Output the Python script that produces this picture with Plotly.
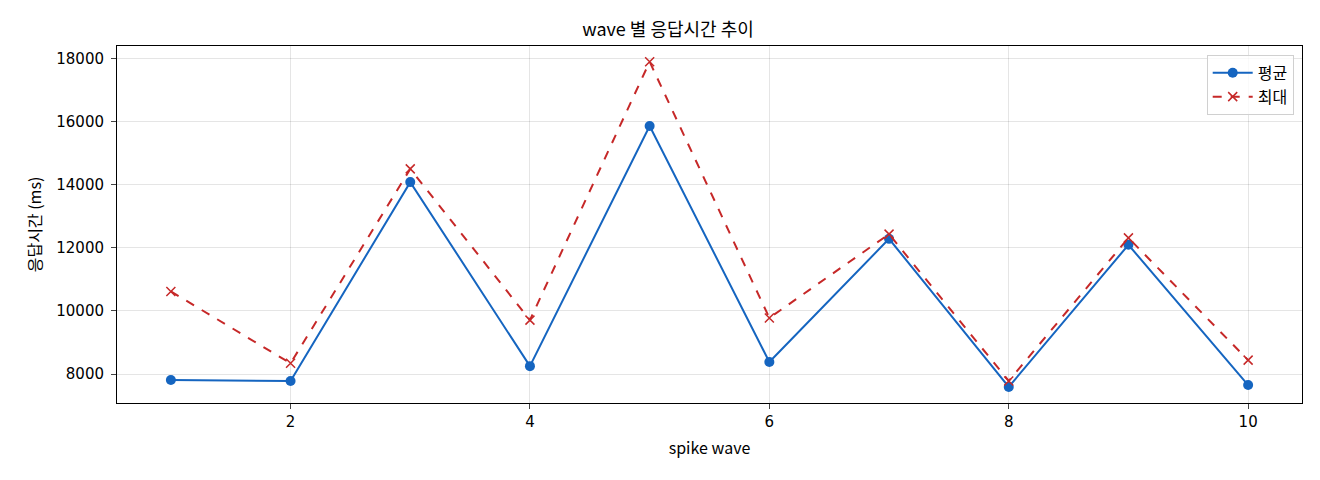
import plotly.graph_objects as go

# data
waves = [1, 2, 3, 4, 5, 6, 7, 8, 9, 10]
avg_ms = [7810, 7780, 14090, 8250, 15870, 8380, 12290, 7590, 12100, 7650]
max_ms = [10620, 8340, 14510, 9710, 17910, 9780, 12440, 7780, 12320, 8440]
x_ticks = [2, 4, 6, 8, 10]
y_ticks = [8000, 10000, 12000, 14000, 16000, 18000]

FONT = "Noto Sans CJK KR, DejaVu Sans, sans-serif"
NUM_FONT = "DejaVu Sans, sans-serif"

fig = go.Figure()
fig.add_trace(go.Scatter(
    x=waves, y=avg_ms, mode="lines+markers", name="평균",
    line=dict(color="#1565c0", width=2),
    marker=dict(symbol="circle", size=10, color="#1565c0"),
))
fig.add_trace(go.Scatter(
    x=waves, y=max_ms, mode="lines+markers", name="최대",
    line=dict(color="#c62828", width=2, dash="dash"),
    marker=dict(symbol="x-thin", size=9, color="#c62828",
                line=dict(color="#c62828", width=1.5)),
))

# page has an 8px body margin, so margins are shifted to compensate
fig.update_layout(
    template=None, width=1320, height=480,
    paper_bgcolor="white", plot_bgcolor="white",
    font=dict(family=FONT, size=15, color="black"),
    title=dict(text="wave 별 응답시간 추이", x=0.5, xanchor="center",
               y=1 - 22 / 480, yanchor="middle", font=dict(size=18)),
    margin=dict(l=109, r=26, t=38, b=85),
    showlegend=True,
    legend=dict(x=0.993, y=0.975, xanchor="right", yanchor="top",
                bgcolor="rgba(255,255,255,0.8)", bordercolor="#d0d0d0",
                borderwidth=1, font=dict(size=16), itemwidth=40,
                tracegroupgap=4),
)

fig.update_xaxes(
    range=[0.55, 10.45], tickvals=x_ticks, title_text="spike wave",
    title_font=dict(size=16), title_standoff=12,
    tickfont=dict(family=NUM_FONT, size=15),
    showgrid=True, gridcolor="rgba(0,0,0,0.1)",
    zeroline=False, ticks="outside", ticklen=5, linecolor="black",
    linewidth=1, mirror=True,
)
fig.update_yaxes(
    range=[7080, 18410], tickvals=y_ticks, tickformat="d",
    title_text="응답시간 (ms)", title_font=dict(size=16), title_standoff=10,
    tickfont=dict(family=NUM_FONT, size=15), ticklabelstandoff=4,
    showgrid=True, gridcolor="rgba(0,0,0,0.1)",
    zeroline=False, ticks="outside", ticklen=5, linecolor="black",
    linewidth=1, mirror=True,
)

fig.write_html("out.html")
